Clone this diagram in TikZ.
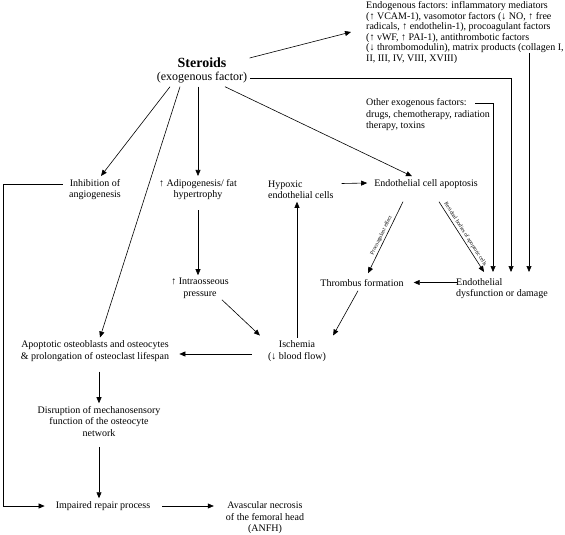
\documentclass[tikz,border=0pt]{standalone}
\usepackage{fontspec}
\setmainfont{Liberation Serif}
\usetikzlibrary{arrows.meta}

\begin{document}
\begin{tikzpicture}[x=1pt, y=-1pt,
  txt/.style={inner sep=3pt, align=center, font=\fontsize{10}{11.5}\selectfont},
  arr/.style={-{Triangle[length=6pt,width=5pt]}, line width=0.6pt},
  small/.style={inner sep=1.8pt, font=\fontsize{5.5}{6}\selectfont}]
\useasboundingbox (0,0) rectangle (565,535);

\node[txt, font=\fontsize{14}{16}\selectfont\bfseries] (ster) at (202,63) {Steroids};
\node[txt, font=\fontsize{12}{14}\selectfont] (exog) at (202,78) {(exogenous factor)};
\node[txt, anchor=west, align=left, font=\fontsize{10}{10.6}\selectfont] (endog) at (363,32.5) {Endogenous factors: inflammatory mediators\\ (↑ VCAM-1), vasomotor factors (↓ NO, ↑ free\\ radicals, ↑ endothelin-1), procoagulant factors\\ (↑ vWF, ↑ PAI-1), antithrombotic factors\\ (↓ thrombomodulin), matrix products (collagen I,\\ II, III, IV, VIII, XVIII)};
\node[txt, anchor=west, align=left] (other) at (363,115) {Other exogenous factors:\\ drugs, chemotherapy, radiation\\ therapy, toxins};
\node[txt] (inhib) at (95,189.5) {Inhibition of\\ angiogenesis};
\node[txt] (adipo) at (198,189.5) {↑ Adipogenesis/ fat\\ hypertrophy};
\node[txt, anchor=west, align=left] (hypox) at (265,189.5) {Hypoxic\\ endothelial cells};
\node[txt] (apopt) at (426,184) {Endothelial cell apoptosis};
\node[txt] (intra) at (200,288.5) {↑ Intraosseous\\ pressure};
\node[txt] (throm) at (362,283) {Thrombus formation};
\node[txt, anchor=west, align=left] (endodys) at (453,288.5) {Endothelial\\ dysfunction or damage};
\node[txt] (isch) at (297,351) {Ischemia\\ (↓ blood flow)};
\node[txt] (apob) at (95,351) {Apoptotic osteoblasts and osteocytes\\ \& prolongation of osteoclast lifespan};
\node[txt] (disr) at (99,421.5) {Disruption of mechanosensory\\ function of the osteocyte\\ network};
\node[txt] (impair) at (103,506) {Impaired repair process};
\node[txt] (avn) at (265,518) {Avascular necrosis\\ of the femoral head\\ (ANFH)};

\coordinate (t1) at ([shift={(-9,-3)}]endodys.north);
\coordinate (t2) at ([shift={(9,-3)}]endodys.north);
\coordinate (t3) at ([shift={(27,-3)}]endodys.north);

\draw[arr] ([shift={(20,-5)}]ster.east) -- ([shift={(-12,-0.5)}]endog.west);
\draw[arr] (exog.east) -| (t2);
\draw[arr] ([shift={(112,-12)}]other.west) -| (t1);
\draw[arr] ([shift={(166,-14)}]endog.south west) coordinate (e3) -- (e3 |- t3);
\draw[arr] ([xshift=-32pt]exog.south) -- ([xshift=6pt]inhib.north);
\draw[arr] ([xshift=-22pt]exog.south) -- ([xshift=5pt]apob.north);
\draw[arr] (exog.south -| adipo.north) -- (adipo.north);
\draw[arr] ([xshift=23pt]exog.south) -- ([xshift=-14pt]apopt.north);
\draw[arr] ([shift={(-3,-5.5)}]inhib.west) -- ++(-60,0) |- ([xshift=-8pt]impair.west);
\draw[arr, shorten <=7pt] (adipo.south) -- (adipo.south |- intra.north);
\draw[arr] ([shift={(-10,-2)}]intra.south east) -- ([shift={(-5,-2)}]isch.north west);
\draw[arr] (isch.north) -- (isch.north |- hypox.south);
\draw[arr] ([shift={(5,-6)}]hypox.east) -- ([shift={(-4,-1)}]apopt.west);
\draw[arr] ([shift={(-23,10)}]apopt.south) -- node[small, sloped, above, midway] {Procoagulant effect} ([shift={(6,-3)}]throm.north);
\draw[arr] ([shift={(13,10)}]apopt.south) -- node[small, sloped, above, midway] {Residual bodies of apoptotic cells} ([shift={(-18,-3)}]endodys.north);
\draw[arr] ([shift={(4,-6)}]endodys.west) -- ([shift={(7,-0.5)}]throm.east);
\draw[arr] ([shift={(-4,1)}]throm.south) -- ([shift={(4,-2)}]isch.north east);
\draw[arr] ([shift={(-13,3)}]isch.west) -- ([shift={(7,3)}]apob.east);
\draw[arr, shorten <=7pt] (apob.south -| disr.north) -- (disr.north);
\draw[arr, shorten <=7pt] (disr.south) -- (disr.south |- impair.north);
\draw[arr, shorten <=9pt] (impair.east) -- ([shift={(-9,-12)}]avn.west);
\end{tikzpicture}
\end{document}
